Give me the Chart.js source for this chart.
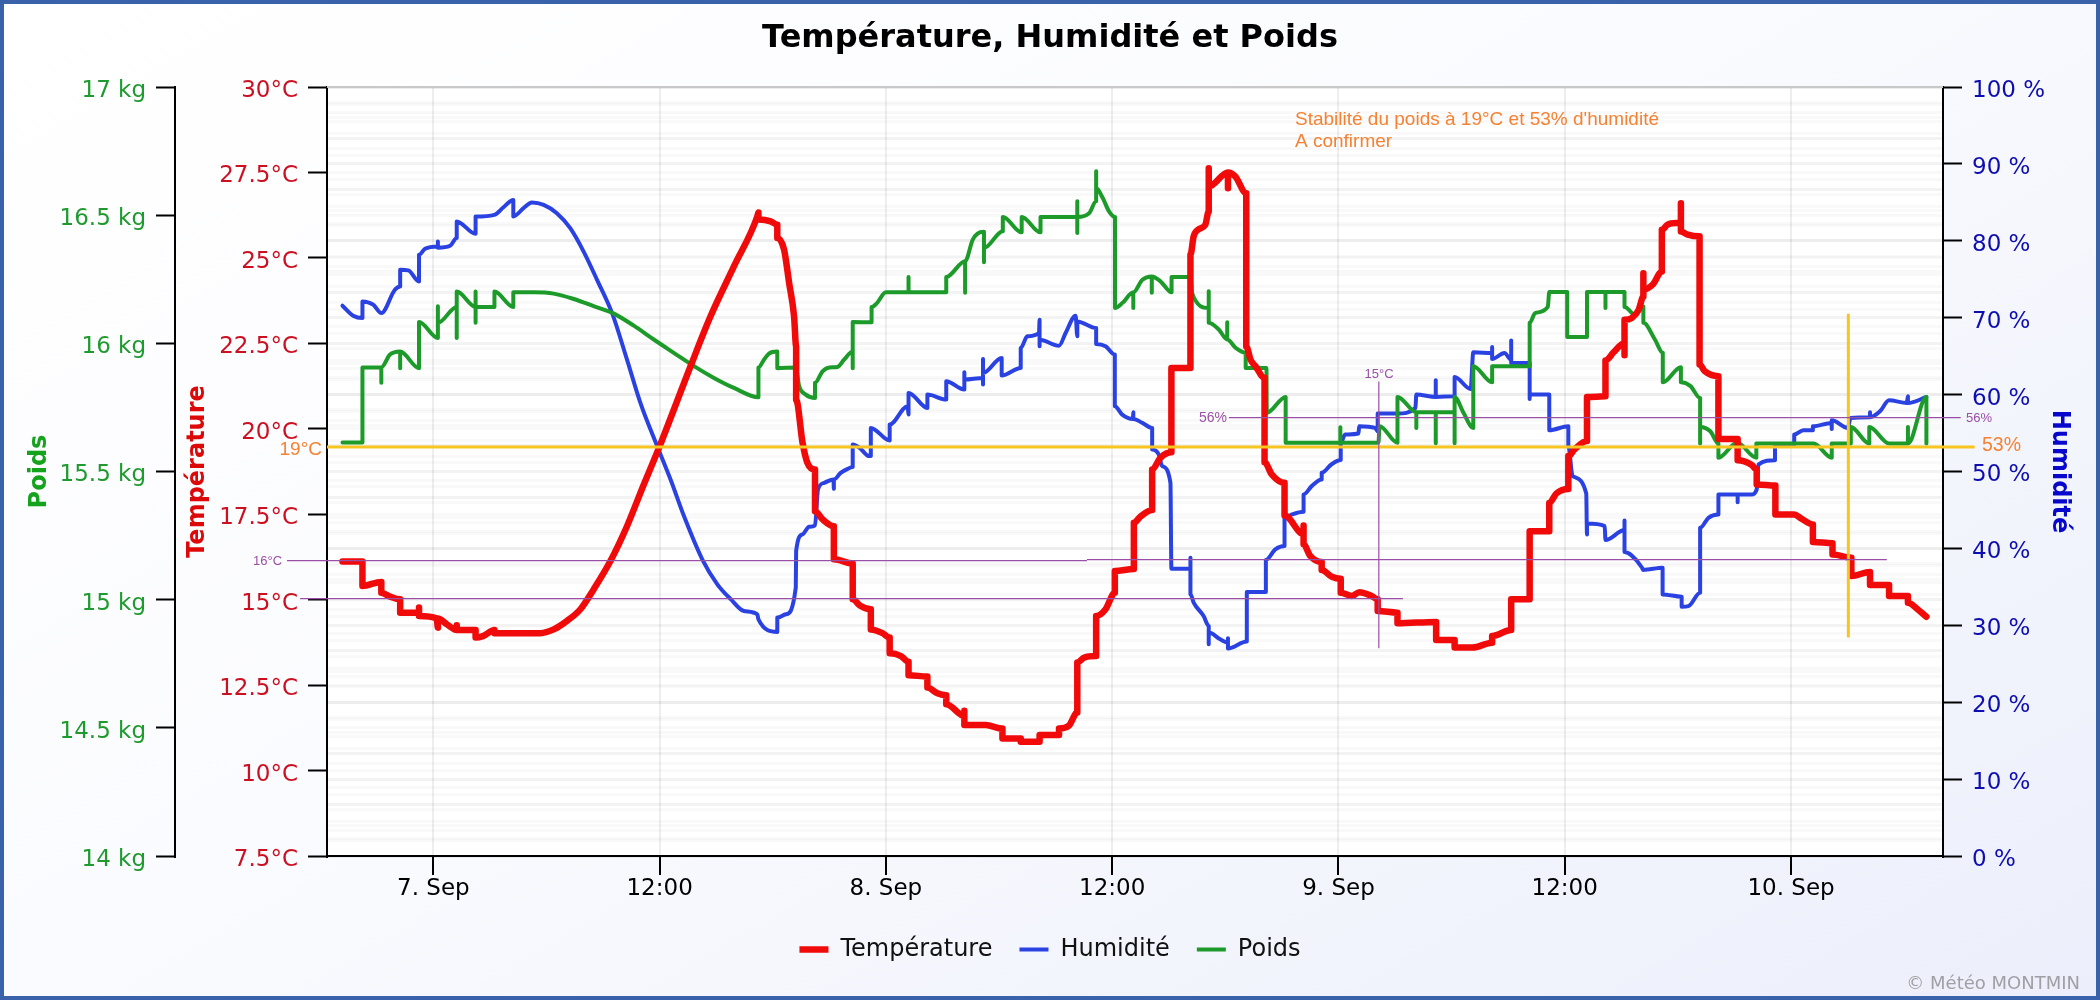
<!DOCTYPE html>
<html>
<head>
<meta charset="utf-8">
<title>Température, Humidité et Poids</title>
<script src="https://cdn.jsdelivr.net/npm/chart.js@4"></script>
<style>
  html, body { margin: 0; padding: 0; }
  #frame {
    position: relative; width: 2100px; height: 1000px;
    background: linear-gradient(150deg, #ffffff 0%, #fafbfe 45%, #eceffb 100%);
    box-shadow: inset 0 0 0 4px #3a62aa;
  }
  canvas { position: absolute; left: 0; top: 0; }
</style>
</head>
<body>
<div id="frame"><canvas id="chart" width="2100" height="1000"></canvas></div>
<script>
// x values are hours counted from 7 Sep 00:00
const xTickHours = [0, 12, 24, 36, 48, 60, 72];
const xTickLabels = ["7. Sep", "12:00", "8. Sep", "12:00", "9. Sep", "12:00", "10. Sep"];

const tempHours = [
  -4.82,-3.76,-3.76,-2.76,-2.76,-2.3,-1.76,-1.76,-0.76,-0.76,-0.76,0.18,0.24,0.24,0.71,1.24,1.24,1.24,2.24,2.24,2.66,3.24,3.24,
  5.67,6.38,7.09,7.8,8.5,9.39,10.27,11.16,12,13.64,14.7,15.94,17.18,17.24,17.24,17.89,18.24,18.24,18.6,18.87,19.13,19.24,19.24,19.58,19.84,20.24,20.24,20.64,21.24,21.24,22.24,22.24,22.64,
  23.2,23.2,23.82,24.2,24.2,24.8,25.2,25.2,26.2,26.2,26.73,27.2,27.2,28.16,28.16,28.16,29.29,30.18,30.18,31.15,31.15,32.15,32.15,33.18,33.18,33.7,34.15,34.15,34.5,35.15,35.15,35.65,36.14,36.14,37.15,37.15,37.5,38.12,38.12,38.56,39.14,39.14,40.15,40.15,40.32,40.59,40.94,41.12,41.12,41.12,42.14,42.14,42.14,42.53,43.11,43.11,43.34,43.6,44.08,44.08,44.47,45.14,45.14,46.15,46.15,46.15,46.5,47.11,47.11,47.65,48.12,48.12,48.7,49.11,49.76,50.08,50.08,
  51.13,51.13,53.18,53.18,54.16,54.16,55.11,56.15,56.15,57.16,57.16,58.14,58.14,59.18,59.18,59.56,60.19,60.19,60.51,61.18,61.18,62.16,62.16,62.6,63.17,63.17,63.17,63.55,63.92,64.17,64.17,64.17,64.68,65.15,65.15,65.44,65.91,66.16,66.16,66.16,66.48,67.15,67.15,67.43,68.15,68.15,69.17,69.17,69.9,70.18,70.18,71.17,71.17,72.17,72.55,73.16,73.16,74.2,74.2,75.2,75.2,76.19,76.19,77.2,77.2,78.2,78.2,78.71,79.18
];
const tempValues = [
  16.12,16.12,15.4,15.52,15.2,15.09,15.01,14.62,14.62,14.77,14.52,14.45,14.18,14.45,14.28,14.11,14.25,14.11,14.11,13.89,13.94,14.11,14.02,
  14.02,14.13,14.38,14.72,15.3,16.13,17.15,18.37,19.49,21.83,23.29,24.75,26.21,26.33,26.12,26.07,25.97,25.58,25.24,24.26,23.29,22.41,20.85,19.59,19.0,18.81,17.59,17.35,17.15,16.18,16.06,15.01,14.82,
  14.72,14.13,14.02,13.89,13.43,13.35,13.18,12.79,12.75,12.43,12.26,12.2,11.94,11.6,11.75,11.33,11.33,11.23,10.94,10.94,10.84,10.84,11.04,11.04,11.23,11.31,11.7,13.16,13.3,13.35,14.52,14.72,15.2,15.84,15.9,17.25,17.43,17.62,18.81,19.15,19.31,21.78,21.78,25.09,25.63,25.84,25.97,26.36,27.62,27.09,27.5,27.04,27.5,27.38,26.89,22.41,22.02,21.83,21.49,19.02,18.66,18.42,17.46,16.91,17.17,16.62,16.28,16.1,15.87,15.67,15.61,15.2,15.11,15.22,15.11,15.01,14.67,
  14.62,14.31,14.35,13.82,13.82,13.6,13.6,13.74,13.94,14.11,15.01,15.01,17.0,17.0,17.83,18.11,18.24,19.2,19.39,19.64,20.93,20.95,22.0,22.24,22.51,22.15,23.19,23.24,23.48,23.87,24.55,24.07,24.23,24.6,25.82,25.97,26.02,26.02,26.6,25.77,25.69,25.63,21.88,21.68,21.54,19.7,19.7,19.08,18.95,18.81,18.37,18.34,17.49,17.49,17.37,17.2,16.69,16.65,16.32,16.23,15.69,15.81,15.43,15.43,15.11,15.11,14.91,14.72,14.5
];

const humHours = [
  -4.82,-4.25,-3.76,-3.76,-3.19,-2.76,-2.04,-1.76,-1.76,-1.33,-0.76,-0.76,-0.44,0.24,0.24,0.24,0.89,1.24,1.24,2.24,2.24,3.24,3.72,4.24,4.24,4.78,5.23,5.85,6.55,7.26,7.97,8.68,9.48,10.27,10.98,11.87,12.58,13.29,14.26,15.06,15.77,16.47,17.18,17.24,18.24,18.24,18.69,19.22,19.24,19.58,19.93,20.24,20.4,20.73,21.22,21.24,21.24,21.6,21.97,22.24,22.24,22.6,
  23.12,23.2,23.2,24.2,24.2,25.15,25.2,25.2,26.2,26.2,27.2,27.2,28.16,28.16,28.16,29.15,29.15,29.15,29.15,30.14,30.14,31.15,31.15,31.5,32.12,32.15,32.15,32.15,33.18,33.53,34.06,34.15,34.15,35.15,35.15,35.65,36.14,36.14,36.53,37.1,37.12,37.12,37.6,38.12,38.12,38.47,38.65,39.09,39.14,40.15,40.15,40.15,40.32,40.85,41.12,41.12,41.12,41.73,42.14,42.14,42.14,43.14,43.14,44.15,44.15,44.65,45.14,45.14,45.53,46.15,46.15,46.58,47.11,47.11,47.62,48.12,48.12,48.35,49.06,49.1,49.94,50.08,50.08,
  51.13,52.08,52.13,53.16,53.16,53.16,54.16,54.16,55.01,55.15,56.15,56.15,56.15,56.8,57.16,57.16,57.16,58.14,58.14,58.14,59.18,59.18,60.19,60.19,60.42,61.14,61.18,61.18,62.12,62.16,63.17,63.17,63.17,63.54,64.1,64.16,65.19,65.19,66.2,66.2,66.56,67.18,67.18,67.62,68.15,68.15,69.17,69.17,69.17,69.9,70.18,70.27,71.15,71.15,72.17,72.17,72.65,73.16,73.16,74.16,74.16,74.16,75.01,75.16,76.19,76.19,76.19,76.72,77.2,78.14,78.2,78.2,79.18
];
const humValues = [
  71.56,70.26,69.96,72.12,71.69,70.6,73.64,74.07,76.23,76.15,74.72,78.18,78.96,79.26,79.9,79.1,79.35,80.35,82.51,80.91,83.16,83.38,84.37,85.32,83.16,84.24,84.98,84.67,83.59,81.64,78.6,74.93,70.6,64.55,58.92,53.29,48.96,44.2,38.58,35.33,33.4,31.86,31.43,30.78,29.14,31.0,31.43,34.9,39.66,41.82,42.82,43.0,47.67,48.53,48.96,47.75,48.96,49.83,50.35,50.57,53.51,53.08,
  52.0,52.0,55.67,54.03,56.1,58.48,57.4,60.22,58.27,60.0,59.35,61.73,60.65,62.9,61.95,62.17,64.63,61.3,62.8,64.76,62.47,63.46,66.06,67.58,68.0,69.74,66.28,67.14,66.36,68.0,70.26,67.58,69.52,68.66,66.58,66.28,65.2,58.49,57.4,56.84,57.7,56.84,56.32,55.67,52.86,52.21,50.7,48.53,37.36,37.36,38.79,34.03,32.95,31.2,29.92,27.54,29.05,28.18,27.75,28.3,26.97,27.88,34.33,34.33,38.49,39.87,40.31,43.99,44.42,44.77,47.02,48.1,48.96,49.83,50.91,51.48,53.72,54.8,54.94,55.89,55.67,55.24,57.53,
  57.53,58.26,60.0,59.7,61.86,59.7,59.78,62.29,60.73,65.5,65.41,66.19,64.63,65.41,64.54,67.05,64.1,64.1,59.43,60.0,60.0,55.36,55.88,53.29,49.39,47.14,41.82,43.24,42.9,41.08,42.38,43.63,39.52,39.09,37.49,37.2,37.49,34.02,33.72,32.42,32.5,34.24,42.68,43.98,44.41,47.0,47.0,46.0,47.0,47.0,47.66,50.9,51.47,53.5,53.5,54.8,55.36,55.36,55.88,56.32,55.54,56.66,55.67,56.97,57.05,57.7,57.05,57.83,59.26,58.9,59.78,58.9,59.69
];

const weightHours = [
  -4.82,-3.76,-3.76,-2.76,-2.76,-2.76,-2.3,-1.76,-1.76,-1.76,-0.76,-0.76,0.24,0.24,0.24,1.24,1.24,1.24,1.24,2.24,2.24,2.24,2.24,3.24,3.24,4.24,4.24,5.31,6.38,7.44,8.5,9.57,10.63,11.69,12.75,13.82,14.88,15.94,17.24,17.24,17.54,17.8,18.24,18.24,19.22,19.4,19.75,20.24,20.24,20.64,21.0,21.43,21.79,22.24,22.24,22.24,
  23.24,23.24,23.5,24,25.2,25.2,25.2,27.2,27.2,28.2,28.2,28.2,28.6,28.86,29.2,29.2,29.2,30.2,30.2,31.2,31.2,32.2,32.2,34.15,34.15,34.15,34.15,34.78,35.15,35.15,35.15,35.5,35.83,36.15,36.15,36.55,37.12,37.12,37.12,37.6,38.1,38.1,38.1,38.56,39.15,39.15,40.15,40.23,41.12,41.12,41.12,41.65,42.1,42.1,42.1,42.55,43.08,43.08,44.18,44.2,45.2,45.2,48.1,48.1,48.1,50.12,50.18,51.13,51.13,52.13,52.13,52.13,53.16,53.16,53.16,54.16,54.16,54.16,54.63,55.15,55.15,56.15,56.15,58.14,58.14,58.43,59.1,59.18,60.13,60.13,61.18,61.18,62.16,62.16,62.16,63.17,63.17,63.73,64.17,64.17,64.78,65.2,65.2,66.16,66.16,66.67,67.18,67.18,67.18,67.72,68.15,68.15,69.14,70.16,70.16,73.2,74.16,74.16,75.17,75.17,76.15,76.15,77.2,78.2,78.2,78.2,79.18,79.18
];
const weightValues = [
  15.613,15.613,15.906,15.906,15.846,15.906,15.956,15.968,15.903,15.968,15.903,16.083,16.021,16.145,16.08,16.142,16.202,16.021,16.202,16.142,16.202,16.08,16.142,16.142,16.202,16.142,16.199,16.199,16.194,16.173,16.145,16.116,16.069,16.015,15.963,15.911,15.865,15.826,15.79,15.906,15.937,15.96,15.968,15.903,15.906,15.833,15.8,15.787,15.846,15.891,15.906,15.908,15.937,15.968,15.903,16.083,
  16.082,16.142,16.155,16.199,16.199,16.259,16.199,16.199,16.259,16.32,16.197,16.32,16.404,16.428,16.435,16.316,16.372,16.437,16.493,16.433,16.493,16.433,16.493,16.493,16.554,16.43,16.493,16.508,16.554,16.671,16.606,16.567,16.515,16.493,16.138,16.158,16.199,16.138,16.199,16.248,16.261,16.197,16.261,16.242,16.199,16.259,16.259,16.197,16.138,16.203,16.08,16.054,16.015,16.082,16.015,15.982,15.963,15.904,15.904,15.729,15.791,15.612,15.612,15.673,15.612,15.612,15.677,15.612,15.791,15.731,15.67,15.731,15.731,15.61,15.731,15.731,15.61,15.791,15.729,15.67,15.911,15.848,15.911,15.911,16.08,16.118,16.142,16.2,16.2,16.025,16.025,16.2,16.2,16.138,16.2,16.2,16.142,16.112,16.144,16.08,16.015,15.963,15.848,15.907,15.848,15.833,15.787,15.609,15.674,15.657,15.609,15.554,15.612,15.554,15.609,15.609,15.554,15.609,15.609,15.674,15.609,15.674,15.609,15.609,15.674,15.609,15.791,15.609
];

// marker lines drawn over the curves
const yellowLevelHours = [-5.64, 81.74];
const yellowLevelHumidity = [53.2, 53.2];
const yellowMarkHours = [75.04, 75.04];
const yellowMarkHumidity = [70.5, 28.4];
const temp16HoursA = [-7.76, 34.66];
const temp16ValuesA = [16.14, 16.14];
const temp16HoursB = [34.66, 77.08];
const temp16ValuesB = [16.17, 16.17];
const temp15Hours = [-7.07, 51.42];
const temp15Values = [15.03, 15.03];
const hum56Hours = [42.19, 81.0];
const hum56Values = [57, 57];
const purpleMarkHours = [50.14, 50.14];
const purpleMarkHumidity = [61.7, 27];

const RED = "#f00a0a", BLUE = "#2b42e2", GREEN = "#1c9a2a", PURPLE = "#9a4fa6", YELLOW = "#f7c520", ORANGE = "#f58233";
const AXIS_FONT = "'DejaVu Sans'";
const NOTE_FONT = "'Liberation Sans'";

function points(xs, ys) {
  return xs.map((x, i) => ({ x, y: ys[i] }));
}

function curve(label, xs, ys, yAxisID, color, width, order) {
  return {
    label, data: points(xs, ys), yAxisID, borderColor: color, backgroundColor: color, borderWidth: width,
    pointRadius: 0, cubicInterpolationMode: "monotone", order, borderCapStyle: "round", borderJoinStyle: "round",
  };
}

function markerLine(xs, ys, yAxisID, color, width) {
  return {
    data: points(xs, ys), yAxisID, borderColor: color, borderWidth: width,
    pointRadius: 0, tension: 0, clip: false, order: 0,
  };
}

function isMultiple(v, step) {
  return Math.abs(v / step - Math.round(v / step)) < 1e-6;
}

const FAINT = "rgba(0,0,0,0.024)";

function yScale(position, weight, boxWidth, min, max, minorStep, majorStep, labelColor, titleText, titleColor, titlePad, fmt) {
  return {
    type: "linear", position, weight, min, max,
    afterFit: s => { s.width = boxWidth; },
    border: { color: "#000", width: 2 },
    grid: {
      color: FAINT, lineWidth: 3, tickLength: 19, tickWidth: 2,
      tickColor: c => (isMultiple(c.tick.value, majorStep) ? "#000" : "rgba(0,0,0,0)"),
    },
    ticks: {
      stepSize: minorStep, autoSkip: false, padding: 10, labelOffset: 4, color: labelColor,
      font: { family: AXIS_FONT, size: 23 },
      callback: v => (isMultiple(v, majorStep) ? fmt(v) : ""),
    },
    title: {
      display: true, text: titleText, color: titleColor,
      font: { family: AXIS_FONT, size: 24, weight: "bold" }, padding: { top: titlePad, bottom: 0 },
    },
  };
}

// small notes on top of the chart
const notes = [
  { text: "16°C", x: 253, y: 561, size: 13, color: PURPLE, font: NOTE_FONT, align: "left" },
  { text: "15°C", x: 1379, y: 374, size: 13, color: PURPLE, font: NOTE_FONT, align: "center" },
  { text: "56%", x: 1227, y: 418, size: 14, color: PURPLE, font: NOTE_FONT, align: "right" },
  { text: "56%", x: 1966, y: 418, size: 13, color: PURPLE, font: NOTE_FONT, align: "left" },
  { text: "19°C", x: 322, y: 450, size: 19, color: ORANGE, font: NOTE_FONT, align: "right" },
  { text: "53%", x: 1982, y: 446, size: 19.5, color: ORANGE, font: NOTE_FONT, align: "left" },
  { text: "Stabilité du poids à 19°C et 53% d'humidité", x: 1295, y: 120, size: 19, color: ORANGE, font: NOTE_FONT, align: "left" },
  { text: "A confirmer", x: 1295, y: 142, size: 19, color: ORANGE, font: NOTE_FONT, align: "left" },
  { text: "© Météo MONTMIN", x: 2080, y: 984, size: 18, color: "#a0a0a4", font: AXIS_FONT, align: "right" },
];

const framePlugin = {
  id: "frame",
  beforeDraw(chart) {
    const { ctx, chartArea: a } = chart;
    ctx.save();
    ctx.fillStyle = "#fff";
    ctx.fillRect(a.left, a.top, a.right - a.left, a.bottom - a.top);
    ctx.restore();
  },
  afterDatasetsDraw(chart) {
    const { ctx, chartArea: a } = chart;
    ctx.save();
    ctx.strokeStyle = "#c8c8c8";
    ctx.lineWidth = 2;
    ctx.beginPath();
    ctx.moveTo(a.left, a.top);
    ctx.lineTo(a.right, a.top);
    ctx.stroke();
    ctx.restore();
  },
  afterDraw(chart) {
    const ctx = chart.ctx;
    ctx.save();
    ctx.textBaseline = "middle";
    notes.forEach(n => {
      ctx.font = n.size + "px " + n.font;
      ctx.fillStyle = n.color;
      ctx.textAlign = n.align;
      ctx.fillText(n.text, n.x, n.y);
    });
    ctx.restore();
  },
};

new Chart(document.getElementById("chart"), {
  type: "line",
  plugins: [framePlugin],
  data: {
    datasets: [
      curve("Température", tempHours, tempValues, "yT", RED, 6.5, 1),
      curve("Humidité", humHours, humValues, "yH", BLUE, 4, 3),
      curve("Poids", weightHours, weightValues, "yW", GREEN, 4, 2),
      markerLine(temp16HoursA, temp16ValuesA, "yT", PURPLE, 1.2),
      markerLine(temp16HoursB, temp16ValuesB, "yT", PURPLE, 1.2),
      markerLine(temp15Hours, temp15Values, "yT", PURPLE, 1.2),
      markerLine(hum56Hours, hum56Values, "yH", PURPLE, 1.2),
      markerLine(purpleMarkHours, purpleMarkHumidity, "yH", PURPLE, 1.2),
      markerLine(yellowLevelHours, yellowLevelHumidity, "yH", YELLOW, 3),
      markerLine(yellowMarkHours, yellowMarkHumidity, "yH", YELLOW, 3),
    ],
  },
  options: {
    responsive: false,
    animation: false,
    devicePixelRatio: 1,
    layout: { padding: { bottom: 28.5 } },
    plugins: {
      tooltip: { enabled: false },
      title: {
        display: true, text: "Température, Humidité et Poids", color: "#000",
        font: { family: AXIS_FONT, size: 32, weight: "bold" },
        padding: { top: 19.5, bottom: 29.1 },
      },
      legend: {
        position: "bottom",
        labels: {
          filter: item => item.datasetIndex < 3,
          sort: (a, b) => a.datasetIndex - b.datasetIndex,
          usePointStyle: true, pointStyle: "line", pointStyleWidth: 29,
          color: "#111", padding: 27, boxHeight: 24,
          font: { family: AXIS_FONT, size: 24 },
        },
      },
    },
    scales: {
      x: {
        type: "linear",
        min: -5.64, max: 80.06,
        afterFit: s => { s.height = 54.5; },
        afterBuildTicks: s => { s.ticks = xTickHours.map(value => ({ value })); },
        border: { color: "#000", width: 2 },
        grid: { color: "#eeeeee", lineWidth: 2, tickColor: "#000", tickLength: 19, tickWidth: 2 },
        ticks: {
          autoSkip: false, maxRotation: 0, padding: 0, color: "#000",
          font: { family: AXIS_FONT, size: 23 },
          callback: v => xTickLabels[xTickHours.indexOf(v)],
        },
      },
      yW: yScale("left", 2, 175, 14, 17, 0.1, 0.5, "#1f9a2f", "Poids", "#15a31e", 25.5, v => v + " kg"),
      yT: yScale("left", 1, 152, 7.5, 30, 0.5, 2.5, "#cc1022", "Température", "#dd0808", 8, v => v + "°C"),
      yH: yScale("right", 1, 157, 0, 100, 2, 10, "#0e0eb0", "Humidité", "#0808cc", 26, v => v + " %"),
    },
  },
});
</script>
</body>
</html>
